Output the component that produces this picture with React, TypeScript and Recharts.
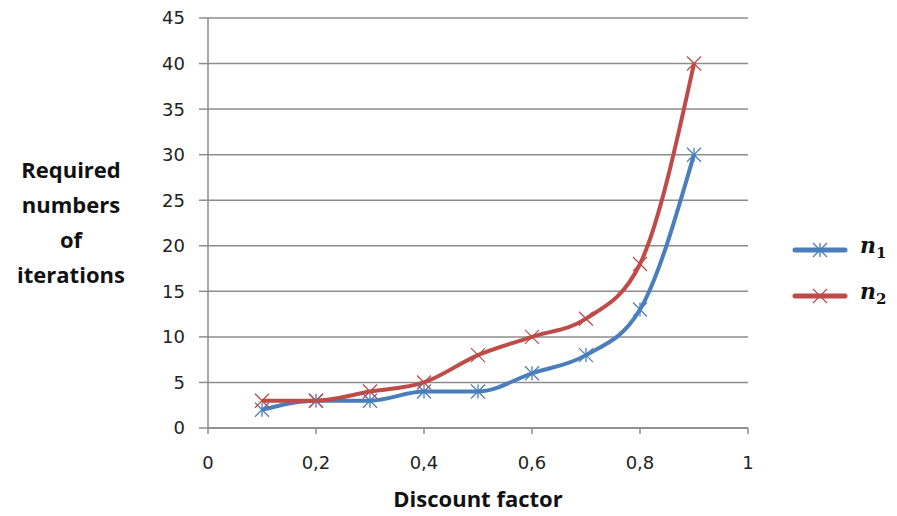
import React from 'react';
import { LineChart, Line, XAxis, YAxis, CartesianGrid } from 'recharts';

const discount = [0.1, 0.2, 0.3, 0.4, 0.5, 0.6, 0.7, 0.8, 0.9];
const n1Values = [2, 3, 3, 4, 4, 6, 8, 13, 30];
const n2Values = [3, 3, 4, 5, 8, 10, 12, 18, 40];
const xTicks = [0, 0.2, 0.4, 0.6, 0.8, 1];
const yTicks = [0, 5, 10, 15, 20, 25, 30, 35, 40, 45];

const BLUE = '#4a7ebb';
const RED = '#be4b48';
const GRID = '#8c8c8c';

const data = discount.map((d, i) => ({ d, n1: n1Values[i], n2: n2Values[i] }));

// asterisk marker for n1, cross for n2
const StarDot = (props: any) => {
  const { cx, cy } = props;
  if (cx == null || cy == null) return null;
  const r = 7;
  return (
    <g stroke={BLUE} strokeWidth={1.3}>
      <line x1={cx - r} y1={cy - r} x2={cx + r} y2={cy + r} />
      <line x1={cx - r} y1={cy + r} x2={cx + r} y2={cy - r} />
      <line x1={cx} y1={cy - r} x2={cx} y2={cy + r} />
    </g>
  );
};

const CrossDot = (props: any) => {
  const { cx, cy } = props;
  if (cx == null || cy == null) return null;
  const r = 7;
  return (
    <g stroke={RED} strokeWidth={1.3}>
      <line x1={cx - r} y1={cy - r} x2={cx + r} y2={cy + r} />
      <line x1={cx - r} y1={cy + r} x2={cx + r} y2={cy - r} />
    </g>
  );
};

const tickStyle = { fontSize: 18, fill: '#222', fontFamily: '"DejaVu Sans", sans-serif' };

export default function App() {
  return (
    <div style={{ position: 'absolute', left: 0, top: 0, width: 897, height: 516, background: '#fff' }}>
      <LineChart
        width={897}
        height={516}
        data={data}
        margin={{ top: 18, right: 149, bottom: 48, left: 148 }}
      >
        <CartesianGrid vertical={false} stroke={GRID} strokeWidth={1.5} />
        <XAxis
          dataKey="d"
          type="number"
          domain={[0, 1]}
          ticks={xTicks}
          tickFormatter={(v: number) => String(v).replace('.', ',')}
          stroke={GRID}
          strokeWidth={1.5}
          tickSize={6}
          tickMargin={22}
          tick={tickStyle}
          height={40}
        />
        <YAxis
          type="number"
          domain={[0, 45]}
          ticks={yTicks}
          stroke={GRID}
          strokeWidth={1.5}
          tickSize={9}
          tickMargin={14}
          tick={tickStyle}
          width={60}
        />
        <Line
          dataKey="n1"
          type="monotone"
          stroke={BLUE}
          strokeWidth={4}
          dot={<StarDot />}
          activeDot={false}
          isAnimationActive={false}
        />
        <Line
          dataKey="n2"
          type="monotone"
          stroke={RED}
          strokeWidth={4}
          dot={<CrossDot />}
          activeDot={false}
          isAnimationActive={false}
        />
      </LineChart>

      <div
        style={{
          position: 'absolute',
          left: 0,
          top: 152,
          width: 142,
          textAlign: 'center',
          fontFamily: '"Open Sans", sans-serif',
          fontWeight: 700,
          fontSize: 22,
          lineHeight: '35px',
          color: '#111',
        }}
      >
        Required<br />numbers<br />of<br />iterations
      </div>

      <div
        style={{
          position: 'absolute',
          left: 328,
          width: 300,
          top: 485,
          textAlign: 'center',
          fontFamily: '"Open Sans", sans-serif',
          fontWeight: 700,
          fontSize: 22,
          lineHeight: '26px',
          color: '#111',
        }}
      >
        Discount factor
      </div>

      {[
        { name: '1', color: BLUE, top: 250, Dot: StarDot },
        { name: '2', color: RED, top: 296, Dot: CrossDot },
      ].map((item) => (
        <div key={item.name} style={{ position: 'absolute', left: 792, top: item.top - 20, height: 40 }}>
          <svg width={58} height={40} style={{ position: 'absolute', left: 0, top: 0 }}>
            <line x1={3} y1={20} x2={53} y2={20} stroke={item.color} strokeWidth={5} strokeLinecap="round" />
            <item.Dot cx={28} cy={20} />
          </svg>
          <span
            style={{
              position: 'absolute',
              left: 68,
              top: 2,
              fontFamily: '"DejaVu Serif", serif',
              fontWeight: 700,
              fontStyle: 'italic',
              fontSize: 22,
              color: '#111',
              whiteSpace: 'nowrap',
            }}
          >
            n<sub style={{ fontSize: 15, fontStyle: 'normal' }}>{item.name}</sub>
          </span>
        </div>
      ))}
    </div>
  );
}
